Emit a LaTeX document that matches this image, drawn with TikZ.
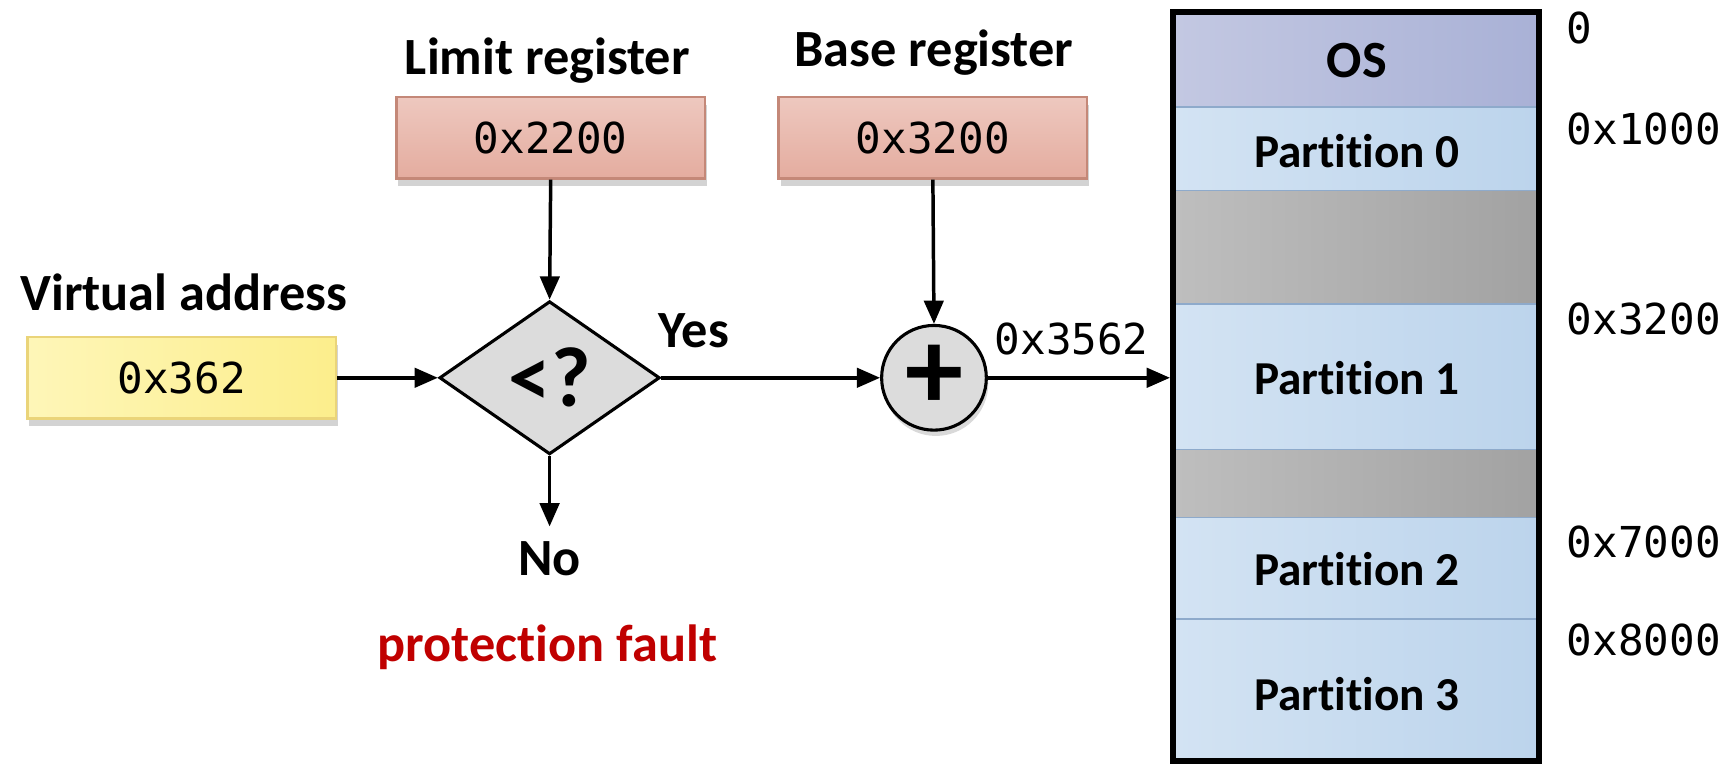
\documentclass[tikz,border=0pt]{standalone}
\usepackage{fontspec}
\setmainfont{Carlito}[Ligatures=NoCommon]
\newfontfamily\monofont{DejaVu Sans Mono}
\usetikzlibrary{shapes.geometric,arrows.meta,shadows}
\definecolor{regfill}{HTML}{E4AC9F}
\definecolor{regfillL}{HTML}{EEC8BF}
\definecolor{regdraw}{HTML}{C48878}
\definecolor{vafill}{HTML}{FCEE8C}
\definecolor{vafillL}{HTML}{FEF6B8}
\definecolor{vadraw}{HTML}{EAD479}
\definecolor{osfill}{HTML}{A9B1D6}
\definecolor{osfillL}{HTML}{C3C8E2}
\definecolor{partfill}{HTML}{BCD4EC}
\definecolor{partfillL}{HTML}{D3E3F3}
\definecolor{gapfill}{HTML}{A2A2A2}
\definecolor{gapfillL}{HTML}{BEBEBE}
\definecolor{sepline}{HTML}{8EAACB}
\definecolor{faultred}{HTML}{C00000}
\definecolor{opfill}{HTML}{DCDCDC}
\tikzset{
  lbl/.style={font=\fontsize{13.5}{16}\selectfont\bfseries, inner sep=0pt},
  plbl/.style={font=\fontsize{12.2}{15}\selectfont\bfseries, inner sep=0pt},
  mono/.style={font=\fontsize{11}{13}\selectfont\monofont, inner sep=0pt},
  regbox/.style={draw=regdraw, line width=0.6pt, shading=axis, left color=regfillL, right color=regfill, shading angle=0,
     minimum width=2.8cm, minimum height=0.74cm, inner sep=0pt,
     drop shadow={shadow xshift=0.5pt, shadow yshift=-2pt, opacity=0.35},
     font=\fontsize{11}{13}\selectfont\monofont},
  vabox/.style={regbox, draw=vadraw, left color=vafillL, right color=vafill},
  conn/.style={-{Triangle[length=6pt,width=5pt]}, line width=0.9pt},
  seg/.style={draw=sepline, line width=0.4pt, shading=axis, shading angle=0},
}
\begin{document}
\begin{tikzpicture}[x=0.01cm,y=-0.01cm]
\useasboundingbox (0,0) rectangle (1568,694);

% labels
\node[lbl] (valbl) at (167,265) {Virtual address};
\node[lbl] (limlbl) at (497,55) {Limit register};
\node[lbl] (baslbl) at (848,48) {Base register};

% boxes
\node[vabox] (va) at (165,343) {0x362};
\node[regbox] (lim) at (500,125) {0x2200};
\node[regbox] (bas) at (847,125) {0x3200};

% comparator
\node[diamond, draw=black, line width=0.8pt, fill=opfill, minimum width=2cm, minimum height=1.39cm, inner sep=0pt,
      font=\fontsize{22}{24}\selectfont\bfseries] (cmp) at (499,343) {<?};
% adder
\node[circle, draw=black, line width=0.8pt, fill=opfill, minimum size=0.95cm, inner sep=0pt,
      drop shadow={shadow xshift=0.5pt, shadow yshift=-1.5pt, opacity=0.3},
      font=\fontsize{30}{30}\selectfont\bfseries] (add) at (848,343) {+};

\node[lbl] (yes) at (630,300) {Yes};
\node[lbl] (no) at (499,507) {No};
\node[lbl, text=faultred] (fault) at (497,588) {protection fault};
\coordinate (noend) at (499,478);

% memory
\shade[seg, left color=osfillL, right color=osfill] (1067,12) rectangle (1395,97);
\shade[seg, left color=partfillL, right color=partfill] (1067,97) rectangle (1395,173);
\shade[seg, left color=gapfillL, right color=gapfill] (1067,173) rectangle (1395,276);
\shade[seg, left color=partfillL, right color=partfill] (1067,276) rectangle (1395,408);
\shade[seg, left color=gapfillL, right color=gapfill] (1067,408) rectangle (1395,470);
\shade[seg, left color=partfillL, right color=partfill] (1067,470) rectangle (1395,562);
\shade[seg, left color=partfillL, right color=partfill] (1067,562) rectangle (1395,690);
\node[draw=black, line width=1.5pt, minimum width=3.32cm, minimum height=6.80cm, inner sep=0pt] (mem) at (1231,351) {};

\node[lbl] (os) at (1232,55) {OS};
\node[plbl] (p0) at (1232,137) {Partition 0};
\node[plbl] (p1) at (1232,343) {Partition 1};
\node[plbl] (p2) at (1232,517) {Partition 2};
\node[plbl] (p3) at (1232,630) {Partition 3};

\node[mono, anchor=west] (a0) at (1422,25) {0};
\node[mono, anchor=west] (a1) at (1422,117) {0x1000};
\node[mono, anchor=west] (a2) at (1422,290) {0x3200};
\node[mono, anchor=west] (a3) at (1422,492) {0x7000};
\node[mono, anchor=west] (a4) at (1422,581) {0x8000};

\node[mono] (phys) at (973,308) {0x3562};

% connectors
\draw[conn] (va.east) -- (cmp.west);
\draw[conn] (lim.south) -- (cmp.north);
\draw[conn] (cmp.east) -- (add.west);
\draw[conn] (bas.south) -- (add.north);
\draw[conn] (add.east) -- (add.east -| mem.west);
\draw[conn] (cmp.south) -- (noend);
\end{tikzpicture}
\end{document}
